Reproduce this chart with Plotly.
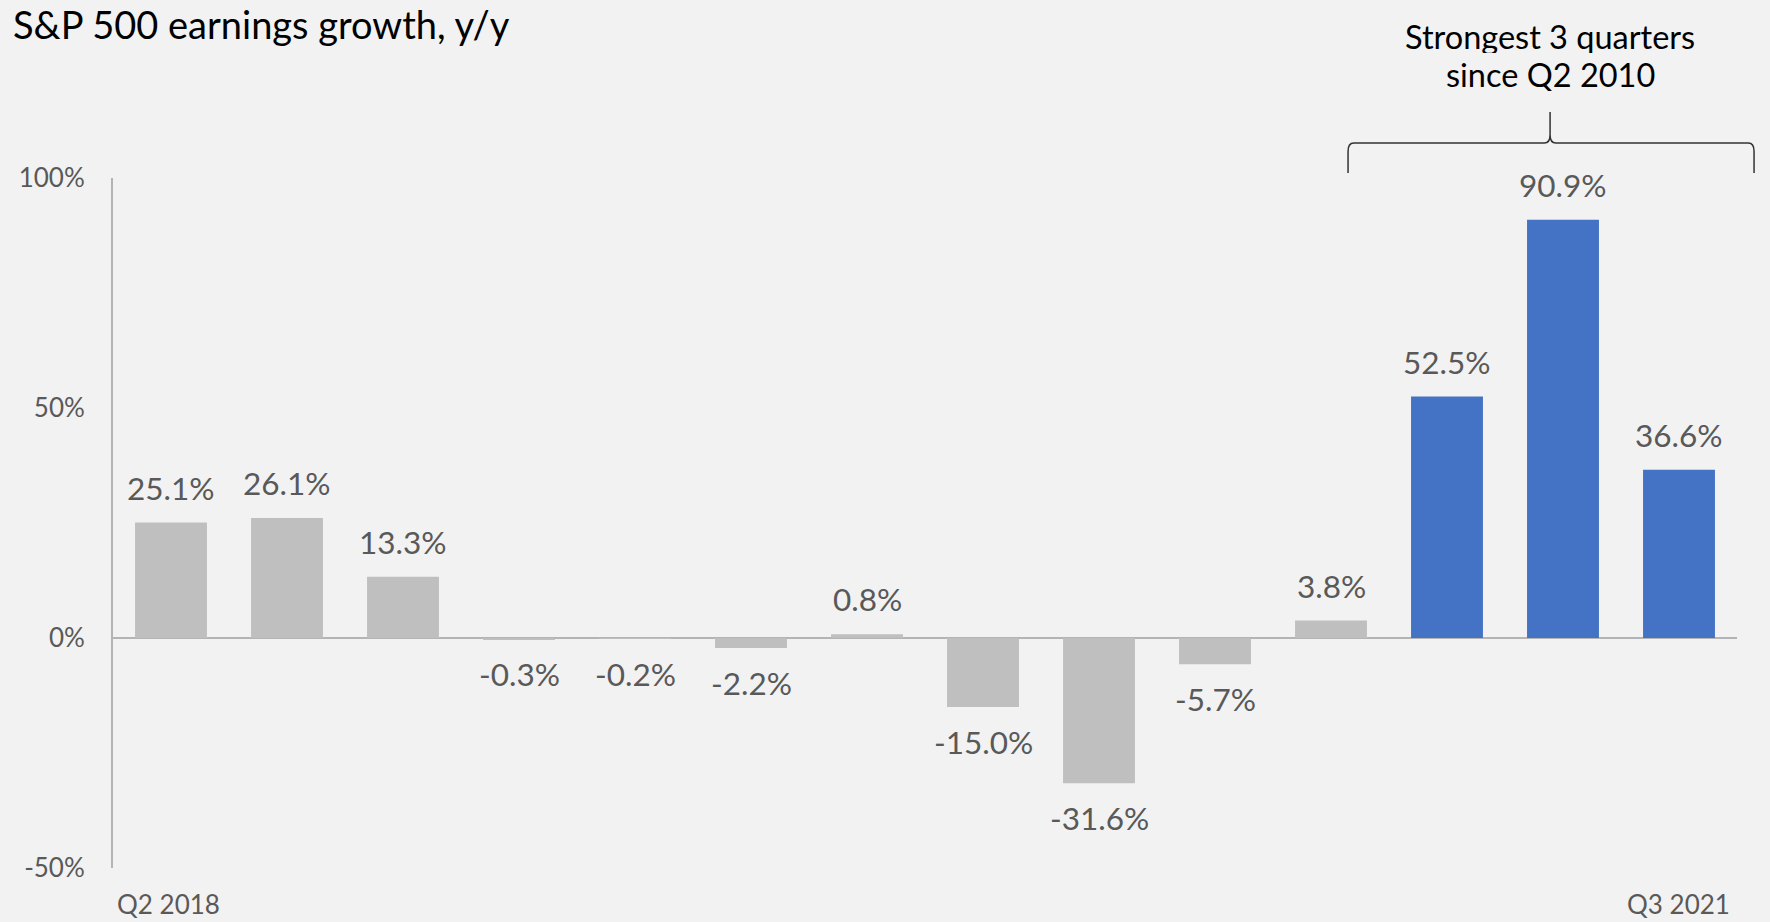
import plotly.graph_objects as go

quarters = ["Q2 2018", "Q3 2018", "Q4 2018", "Q1 2019", "Q2 2019", "Q3 2019", "Q4 2019",
            "Q1 2020", "Q2 2020", "Q3 2020", "Q4 2020", "Q1 2021", "Q2 2021", "Q3 2021"]
growth = [25.1, 26.1, 13.3, -0.3, -0.2, -2.2, 0.8, -15.0, -31.6, -5.7, 3.8, 52.5, 90.9, 36.6]
highlighted = ["Q1 2021", "Q2 2021", "Q3 2021"]
y_ticks = [-50, 0, 50, 100]
y_tick_labels = ["-50%", "0%", "50%", "100%"]
title_text = "S&P 500 earnings growth, y/y"
bracket_lines = ["Strongest 3 quarters", "since Q2 2010"]

GRAY = "#BFBFBF"
BLUE = "#4472C4"
TXT = "#595959"
BG = "#F2F2F2"
FONT = "Lato"

colors = [BLUE if q in highlighted else GRAY for q in quarters]

fig = go.Figure()
fig.add_trace(go.Bar(x=quarters, y=growth, marker=dict(color=colors, line=dict(width=0)),
                     hoverinfo="skip"))

# value labels
for q, v in zip(quarters, growth):
    fig.add_annotation(x=q, y=v, xref="x", yref="y", text=f"{v:.1f}%", showarrow=False,
                       yanchor="middle", yshift=35 if v >= 0 else -35,
                       font=dict(family=FONT, size=31.5, color=TXT))

# first / last category labels
fig.add_annotation(x=0, y=0, xref="paper", yref="paper", text=quarters[0], showarrow=False,
                   xanchor="left", yanchor="top", yshift=-18, xshift=2,
                   font=dict(family=FONT, size=26, color=TXT))
fig.add_annotation(x=1, y=0, xref="paper", yref="paper", text=quarters[-1], showarrow=False,
                   xanchor="right", yanchor="top", yshift=-18, xshift=-5,
                   font=dict(family=FONT, size=26, color=TXT))

# title
fig.add_annotation(x=-0.0625, y=1.2575, xref="paper", yref="paper", text=title_text,
                   showarrow=False, xanchor="left", yanchor="top", borderpad=0,
                   font=dict(family=FONT, size=38, color="#000000"))

# bracket over highlighted quarters
xl, xr, xm = 0.7605, 1.0105, 0.8849
yh, yt, ytop = 1.0507, 1.0072, 1.0957
dx, dy = 0.0035, 0.012
path = (f"M {xl},{yt} L {xl},{yh - dy} Q {xl},{yh} {xl + dx},{yh} "
        f"L {xm - dx},{yh} Q {xm},{yh} {xm},{yh + dy} L {xm},{ytop} "
        f"M {xm},{yh + dy} Q {xm},{yh} {xm + dx},{yh} "
        f"L {xr - dx},{yh} Q {xr},{yh} {xr},{yh - dy} L {xr},{yt}")
fig.add_shape(type="path", path=path, xref="paper", yref="paper",
              line=dict(color="#333333", width=1.5))
for i, line in enumerate(bracket_lines):
    fig.add_annotation(x=xm, y=1.2052 - i * 0.0543, xref="paper", yref="paper", text=line,
                       showarrow=False, xanchor="center", yanchor="middle",
                       height=34, valign="middle", borderpad=0,
                       font=dict(family=FONT, size=32.5, color="#000000"))

fig.update_layout(
    width=1770, height=922,
    paper_bgcolor=BG, plot_bgcolor=BG,
    margin=dict(l=113, r=33, t=178, b=54),
    bargap=0.38, showlegend=False,
    font=dict(family=FONT, color=TXT),
)
fig.update_xaxes(type="category", range=[-0.5, len(quarters) - 0.5], showticklabels=False,
                 showgrid=False, zeroline=False, showline=False, ticks="")
fig.update_yaxes(range=[-50, 100], tickvals=y_ticks, ticktext=y_tick_labels,
                 showgrid=False, zeroline=True, zerolinecolor="#B4B4B4", zerolinewidth=2,
                 showline=True, linecolor="#B4B4B4", linewidth=2, ticks="",
                 ticklabelstandoff=21, tickfont=dict(family=FONT, size=26, color=TXT))

fig.write_html("out.html")
